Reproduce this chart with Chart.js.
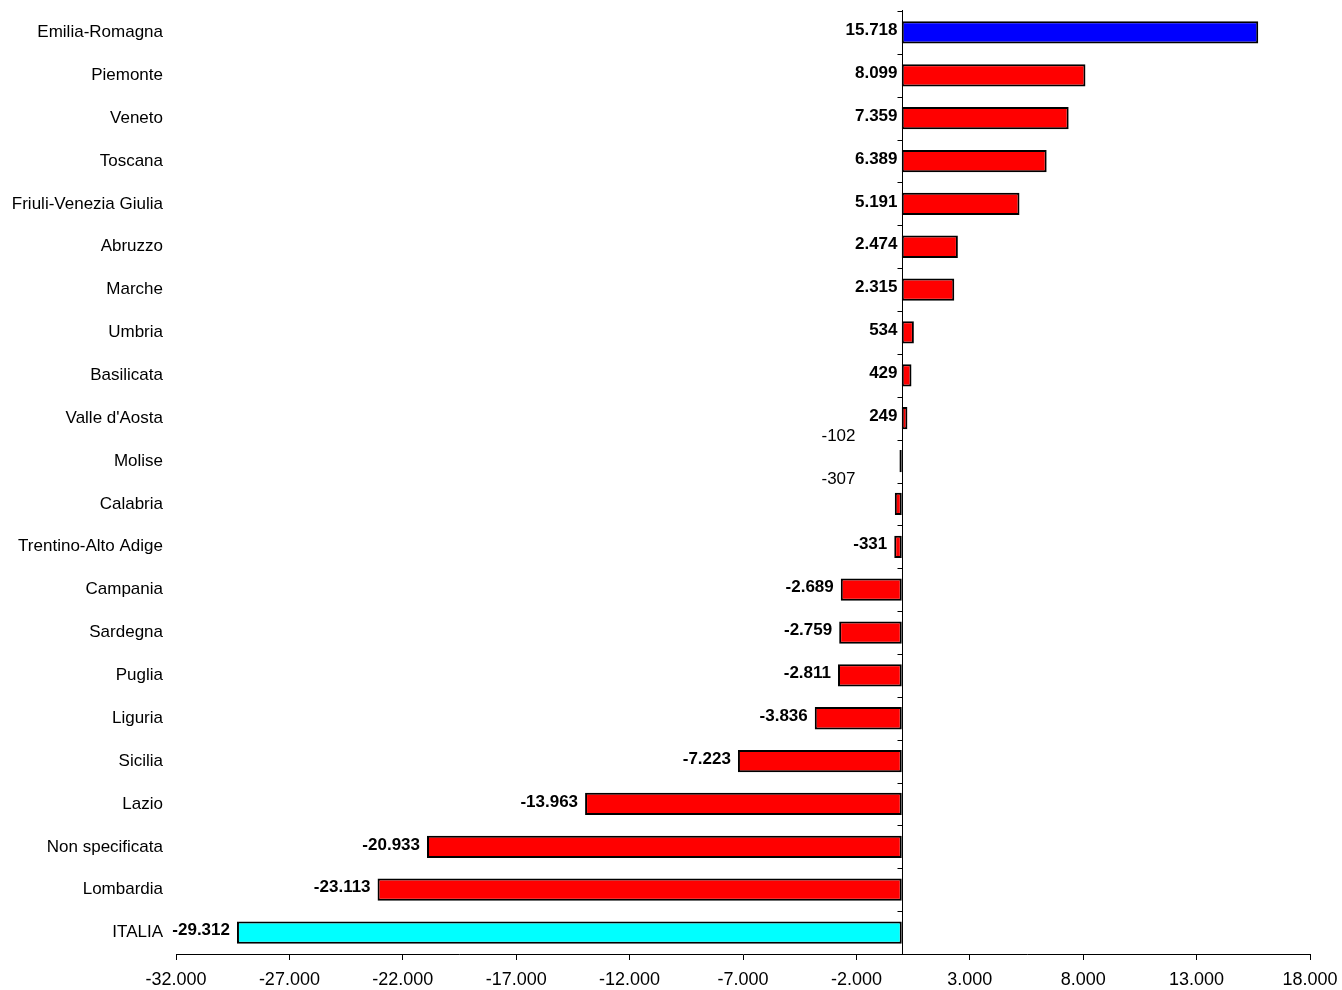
<!DOCTYPE html>
<html><head><meta charset="utf-8">
<script src="https://cdn.jsdelivr.net/npm/chart.js@4/dist/chart.umd.min.js"></script>
<style>html,body{margin:0;padding:0;background:#fff}#wrap{width:1342px;height:990px}</style>
</head><body><div id="wrap"><canvas id="c" width="1342" height="990"></canvas></div>
<script>
const regions = ["Emilia-Romagna","Piemonte","Veneto","Toscana","Friuli-Venezia Giulia","Abruzzo","Marche","Umbria","Basilicata","Valle d'Aosta","Molise","Calabria","Trentino-Alto Adige","Campania","Sardegna","Puglia","Liguria","Sicilia","Lazio","Non specificata","Lombardia","ITALIA"];
const values = [15718,8099,7359,6389,5191,2474,2315,534,429,249,-102,-307,-331,-2689,-2759,-2811,-3836,-7223,-13963,-20933,-23113,-29312];
const barColors = ["#0000FF","#FF0000","#FF0000","#FF0000","#FF0000","#FF0000","#FF0000","#FF0000","#FF0000","#FF0000","#FF0000","#FF0000","#FF0000","#FF0000","#FF0000","#FF0000","#FF0000","#FF0000","#FF0000","#FF0000","#FF0000","#00FFFF"];
const plainLabels = ["Molise","Calabria"];
const xMin = -32000, xMax = 18000, xStep = 5000;

const FONT = "'Liberation Sans', Arial, sans-serif";
function fmt(v){
  const s = Math.abs(v).toString().replace(/\B(?=(\d{3})+(?!\d))/g, ".");
  return (v < 0 ? "-" : "") + s;
}

const overlay = {
  id: 'overlay',
  afterDatasetsDraw(chart){
    const ctx = chart.ctx, xs = chart.scales.x;
    const x0 = Math.round(xs.getPixelForValue(0)) + 0.5;
    const top = chart.chartArea.top, bottom = chart.chartArea.bottom;
    ctx.save();
    ctx.strokeStyle = '#000'; ctx.lineWidth = 1;
    ctx.beginPath(); ctx.moveTo(x0, top - 1); ctx.lineTo(x0, bottom); ctx.stroke();
    const n = regions.length, h = (bottom - top) / n;
    for (let i = 0; i <= n; i++) {
      const y = Math.round(top + i * h) + 0.5;
      ctx.beginPath(); ctx.moveTo(x0 - 5, y); ctx.lineTo(x0, y); ctx.stroke();
    }
    ctx.fillStyle = '#000';
    ctx.textBaseline = 'middle';
    const meta = chart.getDatasetMeta(0);
    values.forEach((v, i) => {
      const bar = meta.data[i];
      const yc = bar.y - 2;
      if (plainLabels.includes(regions[i])) {
        ctx.font = "17px " + FONT;
        ctx.textAlign = 'right';
        ctx.fillText(fmt(v), x0 - 47, bar.y - 25);
        return;
      }
      ctx.font = "bold 17px " + FONT;
      ctx.textAlign = 'right';
      if (v >= 0) ctx.fillText(fmt(v), x0 - 5, yc);
      else ctx.fillText(fmt(v), xs.getPixelForValue(v) - 7, yc);
    });
    ctx.restore();
  }
};

new Chart(document.getElementById('c'), {
  type: 'bar',
  data: { labels: regions, datasets: [{
    data: values, backgroundColor: barColors, borderColor: '#000', borderWidth: 2,
    borderSkipped: false, barPercentage: 0.52, categoryPercentage: 1
  }]},
  options: {
    indexAxis: 'y', responsive: false, animation: false,
    layout: { padding: { top: 11, right: 32, bottom: 0, left: 0 } },
    plugins: { legend: { display: false }, tooltip: { enabled: false } },
    scales: {
      x: {
        min: xMin, max: xMax,
        afterFit(s){ s.height = 36; s.paddingLeft = 0; s.paddingRight = 0; },
        ticks: { stepSize: xStep, color: '#000', font: { family: FONT, size: 18 }, padding: 9,
          maxRotation: 0, autoSkip: false, callback: v => fmt(v) },
        grid: { drawOnChartArea: false, drawTicks: true, tickLength: 6, color: '#000' },
        border: { display: true, color: '#000', width: 1 }
      },
      y: {
        afterFit(s){ s.width = 176; s.paddingTop = 0; s.paddingBottom = 0; },
        ticks: { color: '#000', font: { family: FONT, size: 17 }, padding: 13, autoSkip: false },
        grid: { display: false, drawTicks: false },
        border: { display: false }
      }
    }
  },
  plugins: [overlay]
});
</script></body></html>
